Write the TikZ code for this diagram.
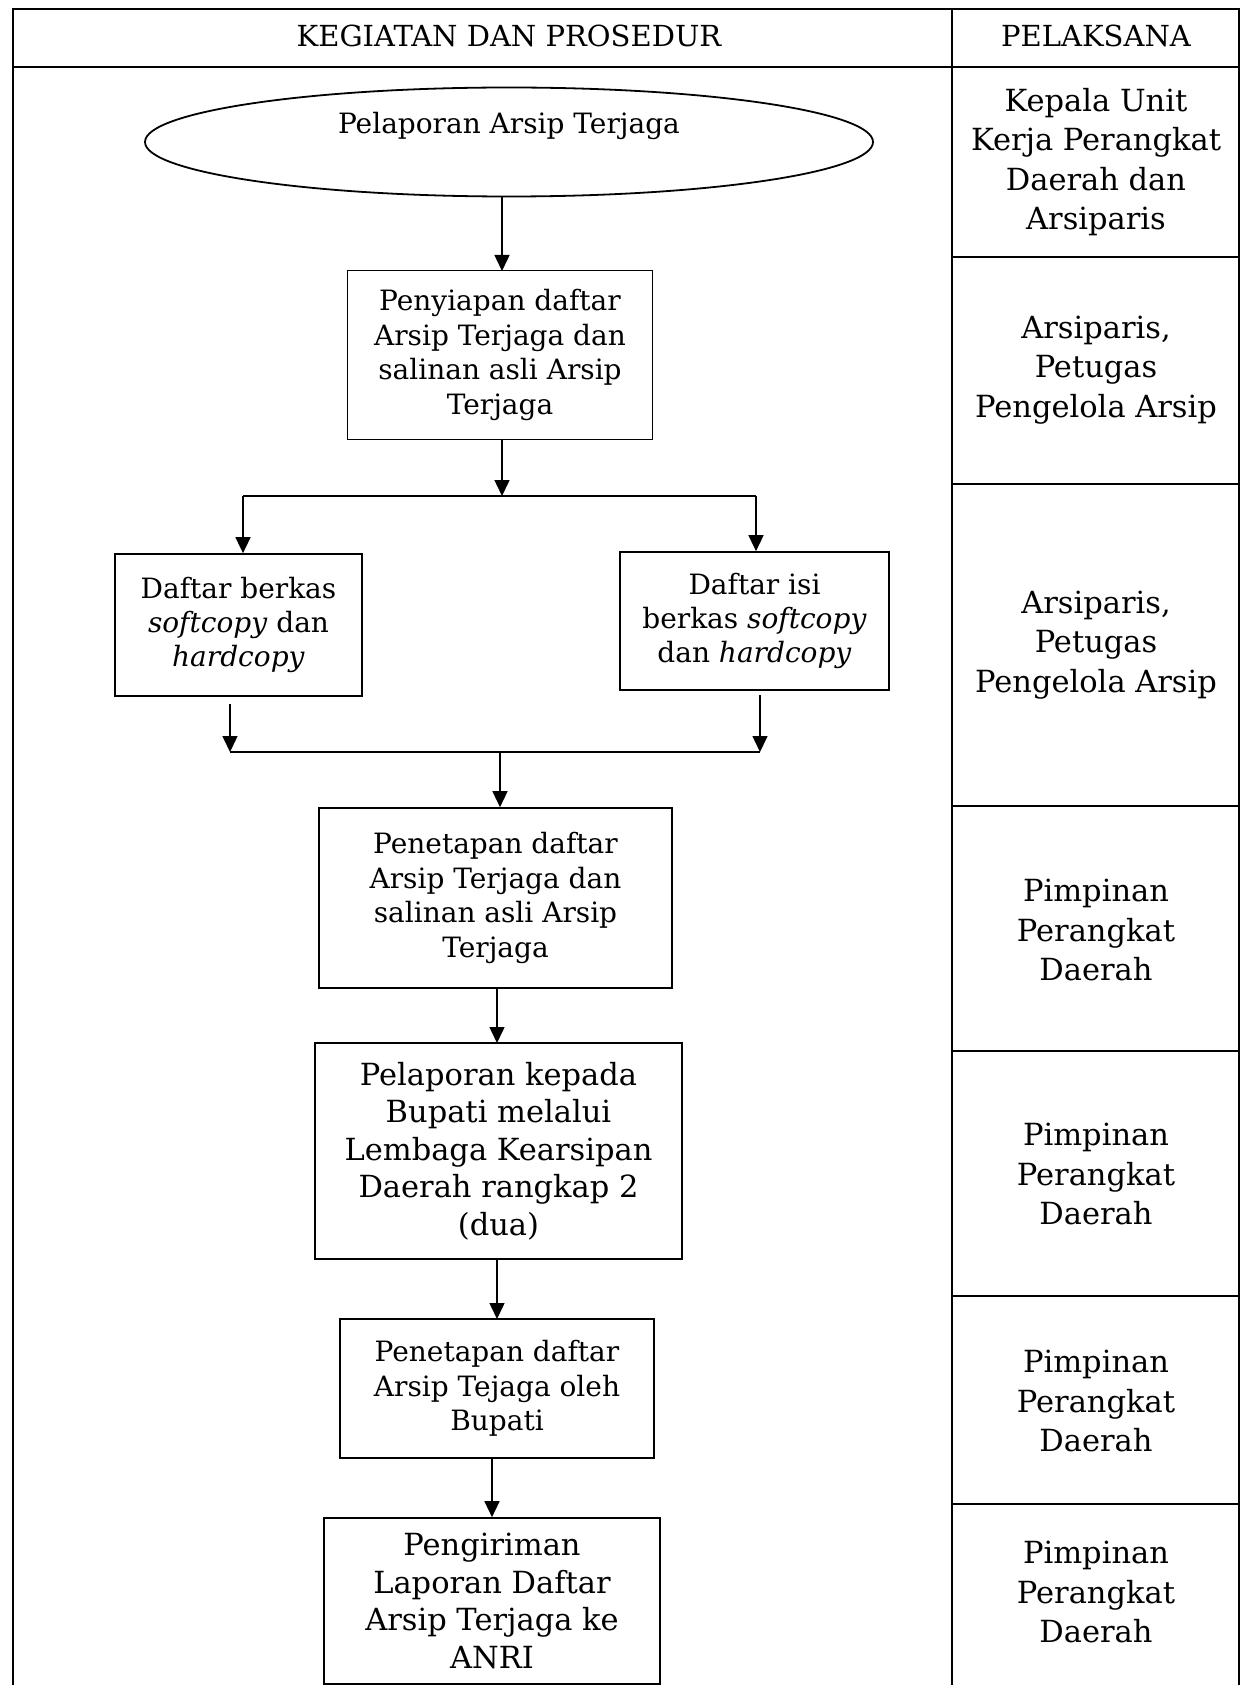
\documentclass[tikz,border=0pt]{standalone}
\usepackage{fontspec}
\setmainfont{DejaVu Serif}
\usetikzlibrary{arrows.meta,shapes.geometric}
\begin{document}
\begin{tikzpicture}[x=1pt,y=-1pt,
  tline/.style={line width=2.5pt},
  boxst/.style={draw,line width=1.7pt,align=center,inner sep=0pt},
  ftxt/.style={font=\fontsize{28}{34.4}\selectfont},
  btxt/.style={font=\fontsize{30.5}{37.5}\selectfont},
  rtxt/.style={font=\fontsize{30.5}{39.3}\selectfont,align=center},
  htxt/.style={font=\fontsize{29}{32}\selectfont},
  arr/.style={line width=1.5pt,-{Triangle[width=15pt,length=16pt]}},
  lin/.style={line width=1.8pt}]
\useasboundingbox (0,0) rectangle (1241,1685);
% table
\draw[tline] (13,9) rectangle (1239,1690);
\draw[tline] (13,67) -- (1239,67);
\draw[tline] (952,9) -- (952,1690);
\foreach \yy in {257,484,806,1051,1296,1504} \draw[tline] (952,\yy) -- (1239,\yy);
% header
\node[htxt] (h1) at (509,36) {KEGIATAN DAN PROSEDUR};
\node[htxt] (h2) at (1096,36) {PELAKSANA};
% right column
\node[rtxt] (r1) at (1096,162) {Kepala Unit\\Kerja Perangkat\\Daerah dan\\Arsiparis};
\node[rtxt] (r2) at (1096,370) {Arsiparis,\\Petugas\\Pengelola Arsip};
\node[rtxt] (r3) at (1096,645) {Arsiparis,\\Petugas\\Pengelola Arsip};
\node[rtxt] (r4) at (1096,930) {Pimpinan\\Perangkat\\Daerah};
\node[rtxt] (r5) at (1096,1174) {Pimpinan\\Perangkat\\Daerah};
\node[rtxt] (r6) at (1096,1401) {Pimpinan\\Perangkat\\Daerah};
\node[rtxt] (r7) at (1096,1592) {Pimpinan\\Perangkat\\Daerah};
% flow
\node[draw,ellipse,line width=1.8pt,minimum width=728pt,minimum height=109pt] (start) at (509,142) {};
\node[ftxt] (startlbl) at (509,126) {Pelaporan Arsip Terjaga};
\node[boxst,ftxt,minimum width=305pt,minimum height=169pt] (b2) at (500,355) {Penyiapan daftar\\Arsip Terjaga dan\\salinan asli Arsip\\Terjaga};
\node[boxst,ftxt,minimum width=247pt,minimum height=142pt] (bl) at (238.5,625) {Daftar berkas\\\textit{softcopy} dan\\\textit{hardcopy}};
\node[boxst,ftxt,minimum width=269pt,minimum height=138pt] (br) at (754.5,621) {Daftar isi\\berkas \textit{softcopy}\\dan \textit{hardcopy}};
\node[boxst,ftxt,minimum width=353pt,minimum height=180pt] (b4) at (495.5,898) {Penetapan daftar\\Arsip Terjaga dan\\salinan asli Arsip\\Terjaga};
\node[boxst,btxt,minimum width=367pt,minimum height=216pt] (b5) at (498.5,1151) {Pelaporan kepada\\Bupati melalui\\Lembaga Kearsipan\\Daerah rangkap 2\\(dua)};
\node[boxst,ftxt,minimum width=314pt,minimum height=139pt] (b6) at (497,1388.5) {Penetapan daftar\\Arsip Tejaga oleh\\Bupati};
\node[boxst,btxt,minimum width=336pt,minimum height=166pt] (b7) at (492,1601) {Pengiriman\\Laporan Daftar\\Arsip Terjaga ke\\ANRI};
% connectors
\coordinate (split) at (502,496);
\coordinate (splitL) at (243,496);
\coordinate (splitR) at (756,496);
\coordinate (mergeL) at (230,752);
\coordinate (mergeR) at (760,752);
\coordinate (merge) at (500,752);
\draw[arr] (start.south -| 502,0) -- (502,271);
\draw[arr] (b2.south -| split) -- (split);
\draw[lin] (splitL) -- (splitR);
\draw[arr] (splitL) -- (splitL |- bl.north);
\draw[arr] (splitR) -- (splitR |- br.north);
\draw[arr,shorten <=7pt] (bl.south -| mergeL) -- (mergeL);
\draw[arr,shorten <=4pt] (br.south -| mergeR) -- (mergeR);
\draw[lin] (mergeL) -- (mergeR);
\draw[arr] (merge) -- (merge |- b4.north);
\draw[arr] (b4.south -| 497,0) -- (497,1043);
\draw[arr] (b5.south -| 497,0) -- (497,1319);
\draw[arr] (b6.south -| 492,0) -- (b7.north);
\end{tikzpicture}
\end{document}
